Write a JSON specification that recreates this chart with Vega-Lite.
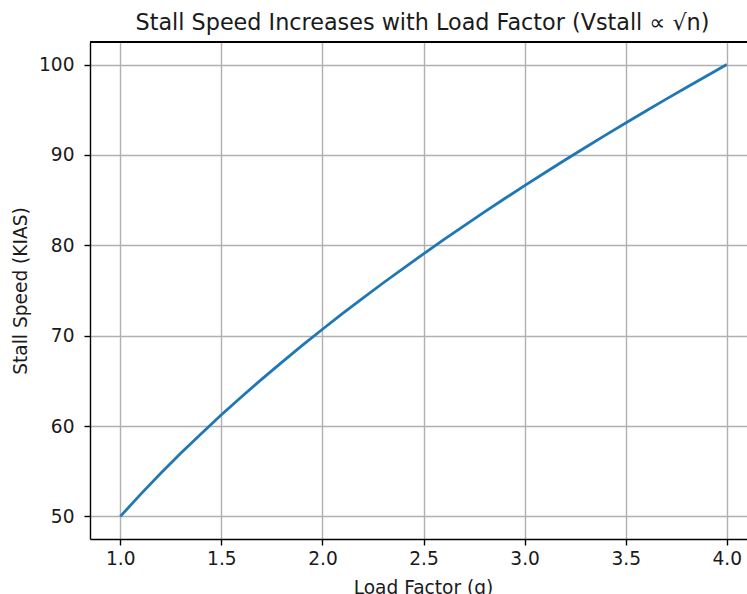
{
  "$schema": "https://vega.github.io/schema/vega-lite/v6.json",
  "autosize": {"type": "none"},
  "width": 657,
  "height": 497,
  "padding": {"left": 90, "top": 42, "right": 0, "bottom": 55},
  "background": "white",
  "config": {
    "view": {"stroke": null},
    "font": "DejaVu Sans",
    "axis": {
      "labelFont": "DejaVu Sans",
      "labelFontSize": 18.6,
      "labelColor": "#1a1a1a",
      "titleFont": "DejaVu Sans",
      "titleFontSize": 18.6,
      "titleFontWeight": "normal",
      "titleColor": "#1a1a1a",
      "domainColor": "#000000",
      "domainWidth": 1.4,
      "tickColor": "#000000",
      "tickWidth": 1.4,
      "tickSize": 6,
      "gridColor": "#b0b0b0",
      "gridWidth": 1.4,
      "gridOpacity": 1,
      "grid": true
    }
  },
  "title": {
    "text": "Stall Speed Increases with Load Factor (Vstall ∝ √n)",
    "font": "DejaVu Sans",
    "fontSize": 22.3,
    "fontWeight": "normal",
    "color": "#1a1a1a",
    "anchor": "middle",
    "dx": 4,
    "offset": 7
  },
  "data": {
    "values": [
      {"n": 1.0, "v": 50.0},
      {"n": 1.1, "v": 52.44},
      {"n": 1.2, "v": 54.77},
      {"n": 1.3, "v": 57.01},
      {"n": 1.4, "v": 59.16},
      {"n": 1.5, "v": 61.24},
      {"n": 1.6, "v": 63.25},
      {"n": 1.7, "v": 65.19},
      {"n": 1.8, "v": 67.08},
      {"n": 1.9, "v": 68.92},
      {"n": 2.0, "v": 70.71},
      {"n": 2.1, "v": 72.46},
      {"n": 2.2, "v": 74.16},
      {"n": 2.3, "v": 75.83},
      {"n": 2.4, "v": 77.46},
      {"n": 2.5, "v": 79.06},
      {"n": 2.6, "v": 80.62},
      {"n": 2.7, "v": 82.16},
      {"n": 2.8, "v": 83.67},
      {"n": 2.9, "v": 85.15},
      {"n": 3.0, "v": 86.60},
      {"n": 3.1, "v": 88.03},
      {"n": 3.2, "v": 89.44},
      {"n": 3.3, "v": 90.83},
      {"n": 3.4, "v": 92.20},
      {"n": 3.5, "v": 93.54},
      {"n": 3.6, "v": 94.87},
      {"n": 3.7, "v": 96.18},
      {"n": 3.8, "v": 97.47},
      {"n": 3.9, "v": 98.74},
      {"n": 4.0, "v": 100.0}
    ]
  },
  "layer": [
    {
      "mark": {"type": "line", "color": "#1f77b4", "strokeWidth": 2.8, "clip": true},
      "encoding": {
        "x": {
          "field": "n",
          "type": "quantitative",
          "title": "Load Factor (g)",
          "scale": {"domain": [0.85, 4.1], "nice": false, "zero": false},
          "axis": {"values": [1.0, 1.5, 2.0, 2.5, 3.0, 3.5, 4.0], "format": ".1f", "labelPadding": 4, "titlePadding": 11, "titleX": 333, "labelFlush": false, "grid": true}
        },
        "y": {
          "field": "v",
          "type": "quantitative",
          "title": "Stall Speed (KIAS)",
          "scale": {"domain": [47.5, 102.5], "nice": false, "zero": false},
          "axis": {"values": [50, 60, 70, 80, 90, 100], "labelPadding": 10, "titlePadding": 8, "labelFlush": false, "grid": true}
        }
      }
    },
    {
      "mark": {"type": "rule", "color": "#000000", "strokeWidth": 1.4},
      "encoding": {
        "y": {"datum": 102.5, "type": "quantitative"}
      }
    }
  ]
}
